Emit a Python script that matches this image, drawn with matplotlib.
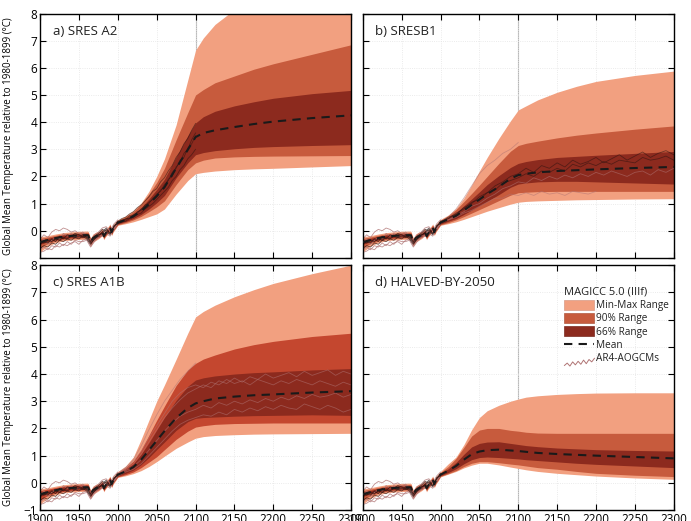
import numpy as np
import matplotlib
matplotlib.use('Agg')
import matplotlib.pyplot as plt
from matplotlib.patches import Patch
from matplotlib.lines import Line2D
from matplotlib.legend_handler import HandlerBase

plt.rcParams['font.family'] = ['Open Sans', 'DejaVu Sans']

# ---- MAGICC historical envelope (shared by all scenarios) ----
hist_years = [1900, 1910, 1920, 1930, 1940, 1950, 1960, 1962, 1965, 1968,
              1972, 1976, 1980, 1982, 1984, 1987, 1990, 1992, 1994, 1997]
hist_mean = [-0.42, -0.34, -0.27, -0.22, -0.19, -0.17, -0.16, -0.17, -0.42, -0.27,
             -0.20, -0.15, -0.05, -0.20, -0.10, 0.00, 0.12, -0.05, 0.08, 0.20]
hist_p66_lo = [-0.50, -0.40, -0.33, -0.28, -0.25, -0.23, -0.22, -0.23, -0.48, -0.33,
               -0.26, -0.21, -0.11, -0.26, -0.16, -0.06, 0.06, -0.11, 0.02, 0.14]
hist_p66_hi = [-0.34, -0.28, -0.21, -0.16, -0.13, -0.11, -0.10, -0.11, -0.36, -0.21,
               -0.14, -0.09, 0.01, -0.14, -0.04, 0.06, 0.18, 0.01, 0.14, 0.26]
hist_p90_lo = [-0.62, -0.47, -0.38, -0.32, -0.29, -0.27, -0.26, -0.27, -0.52, -0.37,
               -0.30, -0.24, -0.14, -0.29, -0.19, -0.09, 0.03, -0.14, -0.01, 0.11]
hist_p90_hi = [-0.28, -0.23, -0.17, -0.12, -0.09, -0.07, -0.06, -0.07, -0.32, -0.17,
               -0.10, -0.06, 0.04, -0.11, -0.01, 0.09, 0.21, 0.04, 0.17, 0.29]
hist_mm_lo = [-0.78, -0.56, -0.44, -0.37, -0.34, -0.32, -0.31, -0.32, -0.57, -0.42,
              -0.35, -0.28, -0.18, -0.33, -0.23, -0.13, -0.01, -0.18, -0.05, 0.07]
hist_mm_hi = [-0.22, -0.18, -0.12, -0.07, -0.04, -0.02, -0.01, -0.02, -0.27, -0.12,
              -0.05, -0.02, 0.08, -0.07, 0.03, 0.13, 0.25, 0.08, 0.21, 0.33]

# ---- scenario projections ----
fut_years = [2000, 2010, 2020, 2030, 2040, 2050, 2060, 2075, 2090, 2100,
             2110, 2125, 2150, 2175, 2200, 2250, 2300]

a2_mean = [0.30, 0.40, 0.53, 0.72, 0.98, 1.27, 1.60, 2.30, 2.98, 3.45, 3.60, 3.70, 3.82, 3.93, 4.02, 4.15, 4.25]
a2_p66_lo = [0.25, 0.34, 0.45, 0.60, 0.80, 1.03, 1.30, 1.95, 2.50, 2.80, 2.88, 2.95, 3.02, 3.07, 3.10, 3.14, 3.17]
a2_p66_hi = [0.35, 0.46, 0.62, 0.85, 1.17, 1.52, 1.90, 2.72, 3.50, 3.97, 4.20, 4.40, 4.60, 4.75, 4.88, 5.05, 5.17]
a2_p90_lo = [0.22, 0.30, 0.40, 0.53, 0.70, 0.88, 1.10, 1.70, 2.25, 2.50, 2.60, 2.68, 2.72, 2.74, 2.75, 2.76, 2.77]
a2_p90_hi = [0.38, 0.52, 0.70, 0.98, 1.35, 1.78, 2.30, 3.35, 4.35, 5.00, 5.20, 5.45, 5.70, 5.95, 6.15, 6.50, 6.85]
a2_mm_lo = [0.20, 0.26, 0.33, 0.42, 0.52, 0.62, 0.80, 1.35, 1.85, 2.10, 2.15, 2.20, 2.25, 2.28, 2.30, 2.35, 2.40]
a2_mm_hi = [0.40, 0.55, 0.75, 1.02, 1.45, 2.00, 2.65, 3.90, 5.55, 6.65, 7.10, 7.60, 8.15, 8.70, 9.10, 9.70, 10.2]

b1_mean = [0.30, 0.42, 0.55, 0.75, 0.95, 1.15, 1.35, 1.62, 1.92, 2.05, 2.10, 2.15, 2.20, 2.23, 2.26, 2.31, 2.35]
b1_p66_lo = [0.25, 0.35, 0.45, 0.60, 0.76, 0.92, 1.08, 1.33, 1.60, 1.72, 1.76, 1.80, 1.82, 1.82, 1.80, 1.76, 1.72]
b1_p66_hi = [0.35, 0.50, 0.66, 0.92, 1.17, 1.43, 1.70, 2.03, 2.33, 2.48, 2.55, 2.62, 2.70, 2.74, 2.78, 2.85, 2.92]
b1_p90_lo = [0.22, 0.30, 0.40, 0.52, 0.65, 0.78, 0.91, 1.11, 1.31, 1.40, 1.42, 1.44, 1.45, 1.45, 1.45, 1.45, 1.45]
b1_p90_hi = [0.38, 0.55, 0.78, 1.07, 1.37, 1.68, 2.00, 2.48, 2.93, 3.14, 3.22, 3.30, 3.42, 3.52, 3.60, 3.74, 3.86]
b1_mm_lo = [0.20, 0.26, 0.33, 0.42, 0.52, 0.62, 0.72, 0.85, 0.98, 1.05, 1.08, 1.10, 1.12, 1.14, 1.15, 1.17, 1.18]
b1_mm_hi = [0.42, 0.58, 0.82, 1.20, 1.68, 2.20, 2.70, 3.40, 4.05, 4.45, 4.60, 4.82, 5.10, 5.32, 5.50, 5.72, 5.88]

a1b_mean = [0.30, 0.42, 0.58, 0.85, 1.20, 1.55, 1.90, 2.38, 2.75, 2.92, 3.00, 3.10, 3.17, 3.22, 3.25, 3.32, 3.37]
a1b_p66_lo = [0.25, 0.35, 0.47, 0.67, 0.93, 1.22, 1.50, 1.93, 2.25, 2.37, 2.40, 2.42, 2.45, 2.47, 2.48, 2.50, 2.48]
a1b_p66_hi = [0.35, 0.50, 0.70, 1.05, 1.47, 1.94, 2.40, 3.03, 3.55, 3.78, 3.86, 3.93, 4.00, 4.05, 4.08, 4.15, 4.20]
a1b_p90_lo = [0.22, 0.30, 0.40, 0.56, 0.76, 0.96, 1.22, 1.60, 1.90, 2.05, 2.10, 2.15, 2.18, 2.19, 2.20, 2.20, 2.20]
a1b_p90_hi = [0.38, 0.56, 0.80, 1.22, 1.75, 2.30, 2.82, 3.58, 4.15, 4.39, 4.55, 4.70, 4.92, 5.08, 5.20, 5.38, 5.50]
a1b_mm_lo = [0.20, 0.26, 0.34, 0.45, 0.60, 0.78, 0.98, 1.27, 1.50, 1.64, 1.70, 1.74, 1.77, 1.79, 1.80, 1.81, 1.82]
a1b_mm_hi = [0.42, 0.62, 0.95, 1.60, 2.30, 3.00, 3.60, 4.54, 5.50, 6.10, 6.30, 6.53, 6.84, 7.10, 7.33, 7.69, 8.00]

h50_mean = [0.30, 0.45, 0.62, 0.85, 1.05, 1.15, 1.20, 1.22, 1.19, 1.17, 1.14, 1.10, 1.06, 1.03, 1.00, 0.95, 0.90]
h50_p66_lo = [0.26, 0.38, 0.52, 0.70, 0.85, 0.93, 0.95, 0.93, 0.90, 0.88, 0.85, 0.82, 0.77, 0.72, 0.68, 0.62, 0.56]
h50_p66_hi = [0.34, 0.52, 0.75, 1.05, 1.32, 1.45, 1.50, 1.51, 1.45, 1.41, 1.37, 1.33, 1.28, 1.25, 1.22, 1.19, 1.17]
h50_p90_lo = [0.24, 0.34, 0.45, 0.60, 0.72, 0.78, 0.78, 0.74, 0.69, 0.66, 0.62, 0.56, 0.50, 0.42, 0.35, 0.28, 0.23]
h50_p90_hi = [0.38, 0.60, 0.90, 1.30, 1.72, 1.94, 2.00, 2.00, 1.93, 1.90, 1.86, 1.83, 1.82, 1.82, 1.82, 1.82, 1.82]
h50_mm_lo = [0.22, 0.32, 0.42, 0.55, 0.65, 0.72, 0.72, 0.66, 0.58, 0.53, 0.48, 0.42, 0.35, 0.30, 0.25, 0.18, 0.13]
h50_mm_hi = [0.42, 0.70, 0.95, 1.40, 1.95, 2.40, 2.65, 2.85, 3.00, 3.08, 3.15, 3.20, 3.25, 3.28, 3.30, 3.31, 3.31]

# ---- AR4 AOGCM runs ----
gcm_hist_years = list(range(1900, 2001, 5))
gcm_hist_pink = [
    [-0.45, -0.30, -0.50, -0.35, -0.25, -0.30, -0.10, -0.20, -0.10, -0.25, -0.20,
     -0.10, -0.20, -0.45, -0.25, -0.10, 0.00, -0.05, 0.10, 0.05, 0.30],
    [-0.30, -0.15, -0.25, -0.05, 0.05, 0.00, 0.10, 0.05, -0.05, 0.00, -0.10,
     -0.05, -0.15, -0.35, -0.15, -0.05, 0.10, 0.15, 0.00, 0.25, 0.40],
    [-0.80, -0.75, -0.65, -0.70, -0.55, -0.60, -0.50, -0.55, -0.45, -0.40, -0.50,
     -0.35, -0.30, -0.55, -0.35, -0.20, -0.15, -0.05, -0.10, 0.10, 0.30],
    [-0.70, -0.60, -0.70, -0.55, -0.60, -0.45, -0.55, -0.40, -0.50, -0.35, -0.40,
     -0.40, -0.35, -0.60, -0.40, -0.25, -0.20, -0.10, -0.20, 0.05, 0.25],
]
gcm_hist_dark = [
    [-0.65, -0.55, -0.60, -0.45, -0.50, -0.35, -0.40, -0.30, -0.35, -0.25, -0.30,
     -0.20, -0.30, -0.50, -0.30, -0.15, -0.10, 0.05, -0.10, 0.15, 0.35],
    [-0.50, -0.40, -0.45, -0.30, -0.40, -0.20, -0.30, -0.15, -0.20, -0.10, -0.15,
     -0.25, -0.20, -0.40, -0.20, -0.10, 0.05, 0.00, -0.15, 0.20, 0.25],
    [-0.40, -0.45, -0.35, -0.40, -0.30, -0.35, -0.25, -0.30, -0.20, -0.25, -0.20,
     -0.15, -0.25, -0.45, -0.30, -0.20, -0.05, 0.10, -0.10, 0.15, 0.30],
]

gcm_a2_years = list(range(2000, 2101, 5))
gcm_a2_runs = [
    [0.35, 0.45, 0.50, 0.62, 0.70, 0.85, 0.95, 1.10, 1.25, 1.45, 1.55,
     1.80, 1.95, 2.20, 2.40, 2.70, 2.90, 3.20, 3.40, 3.70, 3.95],
    [0.30, 0.30, 0.45, 0.45, 0.60, 0.65, 0.80, 0.90, 1.05, 1.15, 1.35,
     1.45, 1.70, 1.85, 2.15, 2.30, 2.60, 2.70, 3.05, 3.20, 3.50],
    [0.25, 0.35, 0.35, 0.45, 0.50, 0.60, 0.65, 0.80, 0.90, 1.00, 1.15,
     1.30, 1.45, 1.60, 1.85, 2.00, 2.25, 2.40, 2.65, 2.80, 3.00],
    [0.30, 0.40, 0.40, 0.55, 0.55, 0.70, 0.75, 0.95, 1.00, 1.20, 1.30,
     1.50, 1.60, 1.90, 2.00, 2.35, 2.50, 2.85, 3.00, 3.35, 3.60],
]

gcm_years_2100 = list(range(2000, 2101, 10))
gcm_years_2200 = list(range(2000, 2201, 10))
gcm_years_2300 = list(range(2000, 2301, 10))

gcm_b1_to2100 = [0.35, 0.50, 0.80, 1.20, 1.65, 2.10, 2.40, 2.60, 2.85, 3.00, 3.25]
gcm_b1_to2200 = [0.30, 0.40, 0.50, 0.65, 0.75, 0.90, 1.05, 1.20, 1.20, 1.35, 1.30,
                 1.40, 1.30, 1.45, 1.35, 1.40, 1.30, 1.45, 1.40, 1.35, 1.45]
gcm_b1_to2300 = [
    [0.30, 0.50, 0.60, 0.85, 1.00, 1.25, 1.40, 1.65, 1.80, 2.00, 2.10, 2.30, 2.15, 2.40, 2.30, 2.50,
     2.35, 2.60, 2.45, 2.55, 2.70, 2.50, 2.65, 2.80, 2.60, 2.75, 2.90, 2.70, 2.85, 2.95, 2.80],
    [0.30, 0.40, 0.55, 0.70, 0.90, 1.00, 1.20, 1.35, 1.55, 1.65, 1.80, 1.75, 1.95, 1.85, 2.00, 1.90,
     2.05, 1.95, 2.10, 2.00, 2.15, 2.05, 2.20, 2.10, 2.00, 2.15, 2.20, 2.05, 2.25, 2.15, 2.30],
    [0.35, 0.45, 0.65, 0.80, 1.05, 1.15, 1.40, 1.50, 1.75, 1.85, 1.95, 2.10, 2.00, 2.20, 2.15, 2.30,
     2.20, 2.45, 2.35, 2.50, 2.40, 2.55, 2.45, 2.60, 2.55, 2.50, 2.70, 2.60, 2.65, 2.75, 2.60],
]

gcm_a1b_to2100 = [0.35, 0.55, 0.85, 1.35, 1.95, 2.50, 3.00, 3.40, 3.80, 4.10, 4.40]
gcm_a1b_to2300 = [
    [0.30, 0.50, 0.70, 1.05, 1.50, 1.95, 2.40, 2.75, 3.05, 3.30, 3.45, 3.60, 3.50, 3.75, 3.65, 3.85,
     3.70, 3.90, 3.80, 4.00, 3.85, 3.95, 4.05, 3.90, 4.10, 3.95, 4.05, 4.15, 3.95, 4.10, 4.00],
    [0.30, 0.45, 0.60, 0.85, 1.20, 1.55, 1.90, 2.20, 2.45, 2.60, 2.70, 2.85, 2.75, 2.95, 2.85, 3.00,
     2.90, 3.05, 2.95, 3.10, 3.00, 3.15, 3.05, 3.20, 3.10, 3.25, 3.15, 3.20, 3.30, 3.15, 3.25],
    [0.25, 0.40, 0.50, 0.70, 1.00, 1.30, 1.60, 1.90, 2.15, 2.30, 2.40, 2.50, 2.45, 2.60, 2.50, 2.70,
     2.60, 2.75, 2.65, 2.80, 2.70, 2.85, 2.75, 2.70, 2.90, 2.80, 2.70, 2.85, 2.75, 2.60, 2.70],
    [0.35, 0.55, 0.80, 1.15, 1.65, 2.10, 2.55, 3.00, 3.30, 3.50, 3.60, 3.50, 3.70, 3.60, 3.80, 3.65,
     3.75, 3.60, 3.80, 3.70, 3.60, 3.75, 3.65, 3.80, 3.70, 3.60, 3.75, 3.65, 3.55, 3.70, 3.60],
]

panel_titles = ['a) SRES A2', 'b) SRESB1', 'c) SRES A1B', 'd) HALVED-BY-2050']
ylabel = 'Global Mean Temperature relative to 1980-1899 (\u00b0C)'

col_mm = '#f2a080'
col_p90 = '#c75b3d'
col_p66 = '#8c2a1e'
col_pink = '#b07474'
col_dark = '#2a1210'

# legend glyph for the model runs
wiggle = [0.0, 0.4, -0.1, 0.6, 0.1, 0.7, 0.2, 0.9, 0.3, 1.0, 0.6, 1.2]


class WiggleHandler(HandlerBase):
    def create_artists(self, legend, orig_handle, xdescent, ydescent,
                       width, height, fontsize, trans):
        xs = np.linspace(0, width, len(wiggle)) - xdescent
        ys = np.array(wiggle) * height * 0.6 - ydescent - 0.25 * height
        ln = Line2D(xs, ys, color=col_pink, lw=0.7, transform=trans)
        return [ln]


def join(lo_hist, fut):
    return np.array(hist_years + fut_years), np.array(lo_hist + fut)


def draw_panel(ax, mean, p66, p90, mm, gcm_future, col90=col_p90, vline=True):
    if vline:
        ax.axvline(2100, color='#b5b5b5', lw=0.8, zorder=0.5)
    yrs, lo = join(hist_mm_lo, mm[0])
    _, hi = join(hist_mm_hi, mm[1])
    ax.fill_between(yrs, lo, hi, color=col_mm, lw=0, zorder=1)
    _, lo = join(hist_p90_lo, p90[0])
    _, hi = join(hist_p90_hi, p90[1])
    ax.fill_between(yrs, lo, hi, color=col90, lw=0, zorder=1.1)
    _, lo = join(hist_p66_lo, p66[0])
    _, hi = join(hist_p66_hi, p66[1])
    ax.fill_between(yrs, lo, hi, color=col_p66, lw=0, zorder=1.2)

    for run in gcm_hist_pink:
        ax.plot(gcm_hist_years, run, color=col_pink, lw=0.6, alpha=0.8, zorder=2)
    for run in gcm_hist_dark:
        ax.plot(gcm_hist_years, run, color=col_dark, lw=0.6, alpha=0.7, zorder=2)
    for yrs_f, run, col in gcm_future:
        ax.plot(yrs_f, run, color=col, lw=0.6, alpha=0.55, zorder=2)

    _, m = join(hist_mean, mean)
    ax.plot(yrs, m, color='#1a1a1a', lw=1.5, ls=(0, (4, 3)), zorder=3)

    ax.set_xlim(1900, 2300)
    ax.set_ylim(-1, 8)
    ax.set_xticks(np.arange(1900, 2301, 50))
    ax.set_yticks(np.arange(-1, 9, 1))
    ax.tick_params(direction='in', top=True, right=True, length=4,
                   width=0.8, labelsize=8.5, pad=2)
    ax.grid(color='#e4e4e4', ls=':', lw=0.6)
    ax.set_axisbelow(True)
    for sp in ax.spines.values():
        sp.set_linewidth(1.0)


fig = plt.figure(figsize=(6.91, 5.21), dpi=100)
ax_a = fig.add_axes([0.058, 0.505, 0.450, 0.469])
ax_b = fig.add_axes([0.525, 0.505, 0.450, 0.469])
ax_c = fig.add_axes([0.058, 0.021, 0.450, 0.470])
ax_d = fig.add_axes([0.525, 0.021, 0.450, 0.470])

draw_panel(ax_a, a2_mean, (a2_p66_lo, a2_p66_hi), (a2_p90_lo, a2_p90_hi),
           (a2_mm_lo, a2_mm_hi),
           [(gcm_a2_years, r, col_dark) for r in gcm_a2_runs])
draw_panel(ax_b, b1_mean, (b1_p66_lo, b1_p66_hi), (b1_p90_lo, b1_p90_hi),
           (b1_mm_lo, b1_mm_hi),
           [(gcm_years_2100, gcm_b1_to2100, col_pink),
            (gcm_years_2200, gcm_b1_to2200, col_pink)]
           + [(gcm_years_2300, r, c) for r, c in
              zip(gcm_b1_to2300, [col_dark, col_pink, col_dark])])
draw_panel(ax_c, a1b_mean, (a1b_p66_lo, a1b_p66_hi), (a1b_p90_lo, a1b_p90_hi),
           (a1b_mm_lo, a1b_mm_hi),
           [(gcm_years_2100, gcm_a1b_to2100, col_pink)]
           + [(gcm_years_2300, r, col_pink) for r in gcm_a1b_to2300],
           col90='#c4472f', vline=False)
draw_panel(ax_d, h50_mean, (h50_p66_lo, h50_p66_hi), (h50_p90_lo, h50_p90_hi),
           (h50_mm_lo, h50_mm_hi), [])

for ax, title in zip([ax_a, ax_b, ax_c, ax_d], panel_titles):
    ax.text(0.04, 0.955, title, transform=ax.transAxes, fontsize=9.5,
            va='top', ha='left', color='#222222')

# only the outer panels carry tick labels
ax_a.tick_params(labelbottom=False)
ax_a.set_yticks(np.arange(-1, 9, 1))
ax_a.set_yticklabels([''] + [str(v) for v in range(0, 9)])
ax_b.tick_params(labelbottom=False, labelleft=False)
ax_d.tick_params(labelleft=False)
for ax in (ax_a, ax_c):
    ax.set_ylabel(ylabel, fontsize=7.0)
    ax.yaxis.set_label_coords(-0.085, 0.5)

handles = [Patch(facecolor=col_mm, edgecolor='#d89a86', lw=0.5),
           Patch(facecolor=col_p90, edgecolor='#b05a40', lw=0.5),
           Patch(facecolor=col_p66, edgecolor='#7a2a20', lw=0.5),
           Line2D([], [], color='#1a1a1a', lw=1.5, ls=(0, (4, 3))),
           Line2D([], [], color=col_pink)]
labels = ['Min-Max Range', '90% Range', '66% Range', 'Mean', 'AR4-AOGCMs']
leg = ax_d.legend(handles, labels, loc='upper right', bbox_to_anchor=(1.01, 0.945),
                  frameon=False, fontsize=7.2, title='MAGICC 5.0 (IIIf)',
                  title_fontsize=8, alignment='left', handlelength=3.0,
                  handleheight=1.15, labelspacing=0.2, handletextpad=0.15,
                  borderpad=0.3,
                  handler_map={handles[-1]: WiggleHandler()})
for t in leg.get_texts():
    t.set_color('#222222')
leg.get_title().set_color('#222222')

fig.savefig('out.png', dpi=100)
